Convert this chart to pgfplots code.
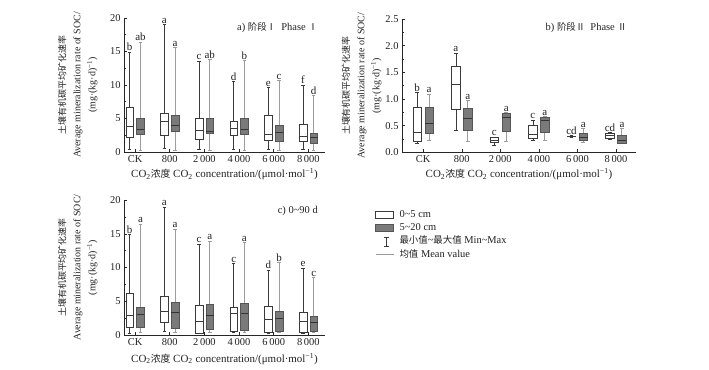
\documentclass[border=0pt]{standalone}
\usepackage{fontspec}
\setmainfont{Liberation Serif}
\newfontfamily\cjk[Scale=0.9]{Noto Sans CJK SC}
\usepackage{pgfplots}
\pgfplotsset{compat=1.18}
\usepgfplotslibrary{statistics}
\definecolor{wline}{HTML}{3A3A3A}
\definecolor{gfill}{HTML}{7A7A7A}
\definecolor{gline}{HTML}{555555}
\definecolor{gwhisk}{HTML}{9C9C9C}
\definecolor{txt}{HTML}{222222}

\newcommand\W[6]{\addplot[wbox, boxplot prepared={draw position=#1, lower whisker=#2, lower quartile=#3, median=#4, upper quartile=#5, upper whisker=#6}] coordinates {};}
\newcommand\G[6]{\addplot[gbox, boxplot prepared={draw position=#1, lower whisker=#2, lower quartile=#3, median=#4, upper quartile=#5, upper whisker=#6}] coordinates {};}

\pgfplotsset{
  wbox/.style={forget plot, boxplot/draw direction=y, draw=wline, fill=white, line width=0.5pt,
    boxplot/box extend=0.22, boxplot/whisker extend=0.1,
    boxplot/every whisker/.style={draw=wline, line width=0.5pt},
    boxplot/every median/.style={draw=wline, line width=0.6pt}},
  gbox/.style={forget plot, boxplot/draw direction=y, draw=gline, fill=gfill, line width=0.5pt,
    boxplot/box extend=0.22, boxplot/whisker extend=0.1,
    boxplot/every whisker/.style={draw=gwhisk, line width=1pt},
    boxplot/every median/.style={draw=black!80, line width=0.7pt}},
  letters/.style={forget plot, only marks, mark=none, nodes near coords, point meta=explicit symbolic,
    nodes near coords style={anchor=south, inner sep=1pt, font=\fontsize{11}{12}\selectfont, text=txt}},
  myaxis/.style={scale only axis, axis lines=left, axis line style={-, draw=black!85, line width=0.5pt},
    tick align=inside, tick style={draw=black!85, line width=0.5pt},
    major tick length=3bp, minor tick length=2bp,
    xmin=-0.32, xmax=5.48, ymin=0, enlargelimits=false, clip=false,
    xtick={0,1,2,3,4,5}, xticklabels={CK,800,2\,000,4\,000,6\,000,8\,000},
    minor y tick num=1,
    /pgf/number format/assume math mode=true,
    tick label style={font=\fontsize{10.5}{12}\selectfont, text=txt},
    ylabel={{\cjk 土壤有机碳平均矿化速率}\\Average mineralization rate of SOC/\\(mg·(kg·d)\textsuperscript{−1})},
    ylabel style={align=center, anchor=south, font=\fontsize{10}{15}\selectfont, text=txt},
    xlabel={CO\textsubscript{2}{\cjk 浓度} CO\textsubscript{2} concentration/(μmol·mol\textsuperscript{−1})},
    xlabel style={anchor=base, font=\fontsize{11}{13}\selectfont, text=txt},
  },
}

\begin{document}
\begin{tikzpicture}
\useasboundingbox (0,0) rectangle (709bp,370bp);

% ---------------- panel a ----------------
\begin{axis}[myaxis, at={(124bp,218bp)}, anchor=south west, width=201bp, height=134bp,
  ymax=20, ytick={0,5,10,15,20},
  ylabel style={at={(axis description cs:-0.114,0.5)}},
  xlabel style={at={(axis description cs:0.5,-0.19)}}]
\W{-0.155}{0.35}{2.14}{3.78}{6.67}{14.9}
\G{0.155}{0.15}{2.7}{3.33}{4.98}{16.4}
\W{0.845}{0.55}{2.49}{4.6}{5.82}{19.0}
\G{1.155}{0.15}{3.03}{3.95}{5.42}{15.6}
\W{1.845}{0.45}{1.94}{3.18}{5.07}{13.6}
\G{2.155}{0.15}{2.8}{3.15}{5.07}{13.8}
\W{2.845}{0.35}{2.5}{3.6}{4.6}{10.5}
\G{3.155}{0.15}{2.7}{3.35}{4.98}{13.6}
\W{3.845}{0.35}{1.8}{2.7}{5.5}{9.6}
\G{4.155}{0.15}{1.6}{3.0}{4.0}{10.6}
\W{4.845}{0.35}{1.65}{2.4}{4.1}{10.0}
\G{5.155}{0.15}{1.25}{2.25}{2.85}{8.4}
\addplot[letters] table[meta=l] {
x y l
-0.155 14.9 b
0.155 16.4 ab
0.845 19.0 a
1.155 15.6 a
1.845 13.6 c
2.155 13.8 ab
2.845 10.5 d
3.155 13.6 b
3.845 9.6 e
4.155 10.6 c
4.845 10.0 f
5.155 8.4 d
};
\node[anchor=north east, inner sep=0pt, font=\fontsize{10.5}{12}\selectfont, text=txt] at (axis description cs:0.965,0.97) {a) {\cjk 阶段Ⅰ}\ \ Phase {\cjk Ⅰ}};
\end{axis}

% ---------------- panel b ----------------
\begin{axis}[myaxis, at={(402bp,217.7bp)}, anchor=south west, width=234bp, height=133.3bp,
  xmin=-0.55, xmax=5.52,
  ymax=2.5, ytick={0,0.5,1,1.5,2,2.5},
  yticklabel style={/pgf/number format/.cd, fixed, fixed zerofill, precision=1},
  ylabel style={at={(axis description cs:-0.073,0.5)}},
  xlabel style={at={(axis description cs:0.5,-0.19)}},
  legend style={at={(axis description cs:-0.115,-0.42)}, anchor=north west, draw=none, fill=none,
    inner sep=0pt, row sep=0.3pt, font=\fontsize{10.5}{12}\selectfont, text=txt,
    nodes={inner sep=1.5pt, text height=7.5pt, text depth=2.5pt},
    /tikz/every odd column/.append style={column sep=4bp}},
  legend cell align=left]
\W{-0.155}{0.175}{0.2}{0.38}{0.84}{1.125}
\G{0.155}{0.22}{0.36}{0.54}{0.84}{1.09}
\W{0.845}{0.41}{0.8}{1.28}{1.61}{1.86}
\G{1.155}{0.21}{0.41}{0.64}{0.82}{0.975}
\W{1.845}{0.14}{0.19}{0.23}{0.28}{0.29}
\G{2.155}{0.21}{0.39}{0.66}{0.73}{0.74}
\W{2.845}{0.23}{0.26}{0.34}{0.51}{0.61}
\G{3.155}{0.23}{0.37}{0.59}{0.66}{0.67}
\W{3.845}{0.29}{0.295}{0.30}{0.31}{0.315}
\G{4.155}{0.19}{0.22}{0.275}{0.36}{0.44}
\W{4.845}{0.25}{0.27}{0.31}{0.35}{0.37}
\G{5.155}{0.16}{0.17}{0.23}{0.32}{0.45}
\addplot[letters] table[meta=l] {
x y l
-0.155 1.125 b
0.155 1.09 a
0.845 1.86 a
1.155 0.975 a
1.845 0.29 c
2.155 0.74 a
2.845 0.61 c
3.155 0.67 a
3.845 0.315 cd
4.155 0.44 a
4.845 0.37 cd
5.155 0.45 a
};
\node[anchor=north east, inner sep=0pt, font=\fontsize{10.5}{12}\selectfont, text=txt] at (axis description cs:0.962,0.975) {b) {\cjk 阶段Ⅱ}\ \ Phase {\cjk Ⅱ}};
\addlegendimage{legend image code/.code={\draw[draw=wline, fill=white, line width=0.5pt] (0bp,-3.5bp) rectangle (18bp,3.5bp);}}
\addlegendentry{0\textasciitilde 5 cm}
\addlegendimage{legend image code/.code={\draw[draw=gline, fill=gfill, line width=0.5pt] (0bp,-3.5bp) rectangle (18bp,3.5bp);}}
\addlegendentry{5\textasciitilde 20 cm}
\addlegendimage{legend image code/.code={\draw[draw=wline, line width=0.5pt] (11bp,-4.5bp)--(11bp,4.5bp) (8.5bp,-4.5bp)--(13.5bp,-4.5bp) (8.5bp,4.5bp)--(13.5bp,4.5bp);}}
\addlegendentry{{\cjk 最小值}\textasciitilde{\cjk 最大值} Min\textasciitilde Max}
\addlegendimage{legend image code/.code={\draw[draw=gwhisk, line width=0.8pt] (0bp,0bp)--(18bp,0bp);}}
\addlegendentry{{\cjk 均值} Mean value}
\end{axis}

% ---------------- panel c ----------------
\begin{axis}[myaxis, at={(124bp,35bp)}, anchor=south west, width=201bp, height=135bp,
  ymax=20, ytick={0,5,10,15,20},
  ylabel style={at={(axis description cs:-0.114,0.5)}},
  xlabel style={at={(axis description cs:0.5,-0.2)}}]
\W{-0.155}{0.3}{1.14}{2.87}{6.24}{14.9}
\G{0.155}{0.4}{1.1}{3.1}{4.1}{16.4}
\W{0.845}{0.55}{1.93}{3.5}{5.8}{18.96}
\G{1.155}{0.4}{1.0}{3.4}{4.9}{15.7}
\W{1.845}{0.2}{0.3}{2.03}{4.36}{13.5}
\G{2.155}{0.4}{0.8}{2.92}{4.55}{13.9}
\W{2.845}{0.35}{0.55}{3.17}{4.06}{10.6}
\G{3.155}{0.4}{0.7}{3.2}{4.75}{13.66}
\W{3.845}{0.3}{0.35}{2.28}{4.26}{9.6}
\G{4.155}{0.35}{0.55}{2.43}{3.5}{10.7}
\W{4.845}{0.3}{0.35}{2.08}{3.3}{9.95}
\G{5.155}{0.35}{0.6}{1.88}{2.72}{8.47}
\addplot[letters] table[meta=l] {
x y l
-0.155 14.9 b
0.155 16.4 a
0.845 18.96 a
1.155 15.7 a
1.845 13.5 c
2.155 13.9 a
2.845 10.6 c
3.155 13.66 a
3.845 9.6 d
4.155 10.7 b
4.845 9.95 e
5.155 8.47 c
};
\node[anchor=north east, inner sep=0pt, font=\fontsize{10.5}{12}\selectfont, text=txt] at (axis description cs:0.965,0.958) {c) 0\textasciitilde 90 d};
\end{axis}
\end{tikzpicture}
\end{document}
